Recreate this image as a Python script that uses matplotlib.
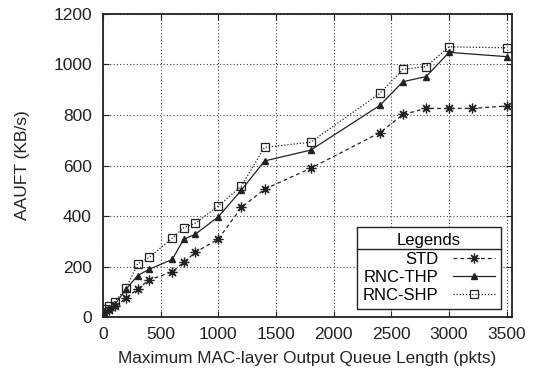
import matplotlib
matplotlib.use("Agg")
import matplotlib.pyplot as plt
from matplotlib.lines import Line2D

plt.rcParams['font.family'] = ['Liberation Sans', 'DejaVu Sans']

x_vals = [10, 50, 100, 200, 300, 400, 600, 700, 800, 1000, 1200, 1400, 1800, 2400, 2600, 2800, 3000, 3500]
x_std = [10, 50, 100, 200, 300, 400, 600, 700, 800, 1000, 1200, 1400, 1800, 2400, 2600, 2800, 3000, 3200, 3500]
std = [15, 28, 42, 74, 111, 147, 179, 217, 256, 309, 434, 506, 589, 730, 802, 826, 826, 826, 836]
thp = [20, 32, 48, 110, 164, 189, 228, 308, 328, 397, 503, 618, 661, 838, 932, 952, 1048, 1031]
shp = [30, 42, 60, 114, 210, 236, 312, 354, 371, 440, 519, 672, 692, 886, 981, 992, 1070, 1066]

labels = ["STD", "RNC-THP", "RNC-SHP"]
xticks = [0, 500, 1000, 1500, 2000, 2500, 3000, 3500]
yticks = [0, 200, 400, 600, 800, 1000, 1200]

FS = 12.5
fig = plt.figure(figsize=(5.37, 3.72), dpi=100)
ax = fig.add_axes([0.1918, 0.1478, 0.7616, 0.8146])

c = '#222222'
ax.plot(x_std, std, linestyle=(0, (3, 2.5)), color=c, lw=0.9, marker=(8, 2, 0), ms=7, mew=0.9, label=labels[0])
ax.plot(x_vals, thp, linestyle='-', color=c, lw=0.9, marker='^', ms=5, mfc=c, label=labels[1])
ax.plot(x_vals, shp, linestyle=(0, (1, 1.5)), color=c, lw=0.9, marker='s', ms=6, mfc='none', mew=0.9, label=labels[2])

ax.set_xlim(0, 3545)
ax.set_ylim(0, 1200)
ax.set_xticks(xticks)
ax.set_yticks(yticks)
ax.tick_params(direction='in', top=True, right=True, length=4, width=0.8, labelsize=FS, colors='#222222')
ax.tick_params(axis='x', pad=7)
ax.tick_params(axis='y', pad=8)
ax.grid(True, linestyle=(0, (1, 2)), color='#444444', lw=0.8)
for s in ax.spines.values():
    s.set_linewidth(1.3)
    s.set_color('#222222')

ax.set_xlabel("Maximum MAC-layer Output Queue Length (pkts)", fontsize=12.3, color='#222222', labelpad=7)
ax.set_ylabel("AAUFT (KB/s)", fontsize=FS, color='#222222', labelpad=17)

leg = ax.legend(title="Legends", loc='lower right', bbox_to_anchor=(0.973, 0.026),
                borderaxespad=0, fancybox=False, edgecolor='#222222', framealpha=1,
                markerfirst=False, fontsize=12, title_fontsize=12, handlelength=2.5,
                labelspacing=0.2, borderpad=0.35, handletextpad=0.9, alignment='center')
leg.get_frame().set_linewidth(1.0)
for col in leg._legend_handle_box.get_children():
    col.align = 'right'

fig.canvas.draw()
r = fig.canvas.get_renderer()
fb = leg.get_frame().get_window_extent(r)
tb = leg.get_title().get_window_extent(r)
ysep = tb.y0 - 1
inv = fig.transFigure.inverted()
(x0, y0) = inv.transform((fb.x0, ysep))
(x1, _) = inv.transform((fb.x1, ysep))
fig.add_artist(Line2D([x0, x1], [y0, y0], color='#222222', lw=1.0, zorder=10))

fig.savefig("out.png", dpi=100)
